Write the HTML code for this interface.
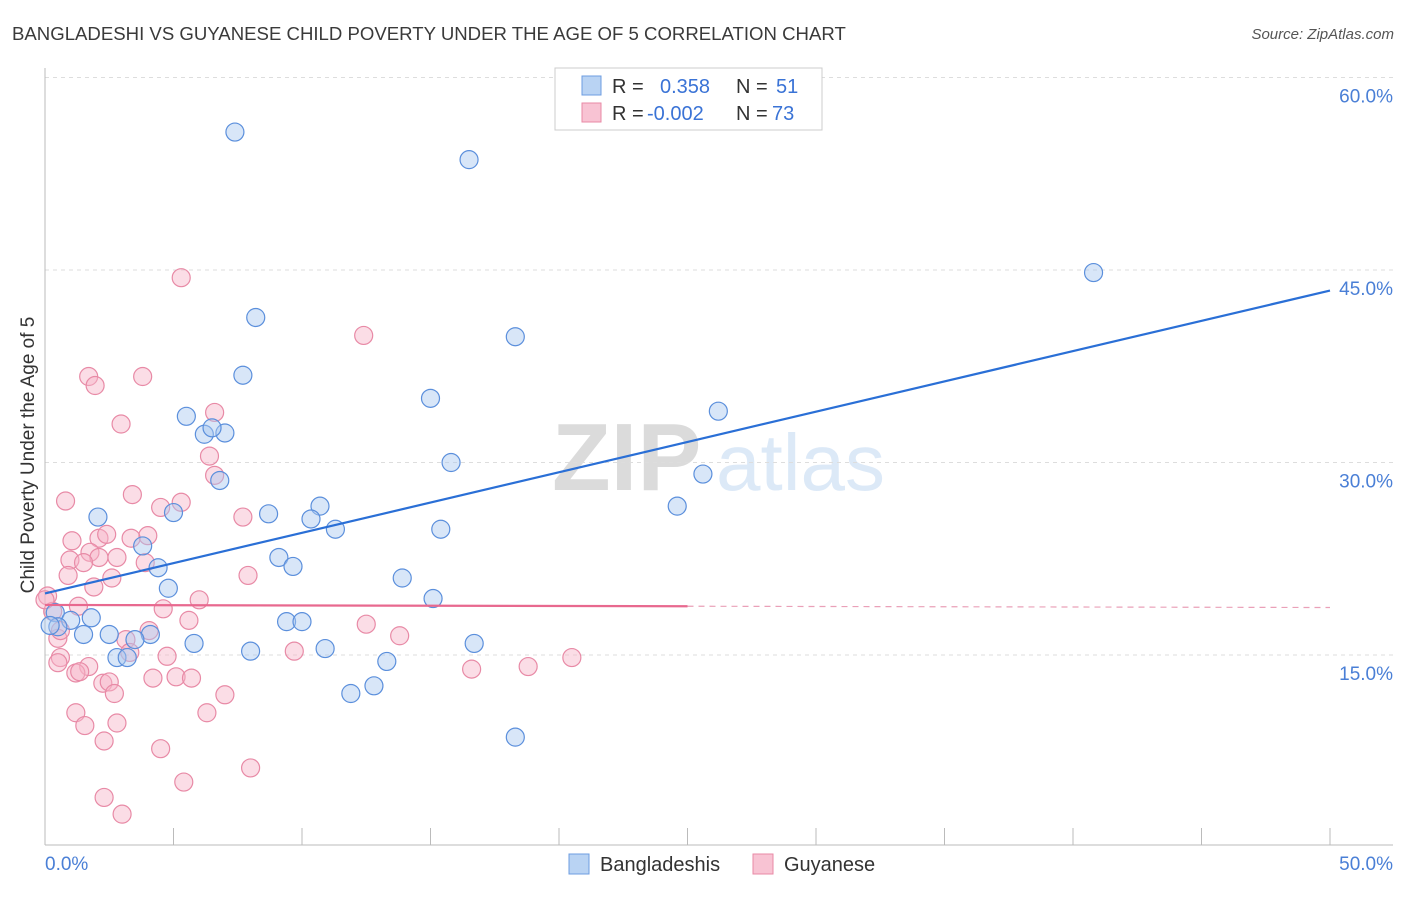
<!DOCTYPE html>
<html><head><meta charset="utf-8"><style>
body{margin:0;background:#fff;font-family:"Liberation Sans",sans-serif;}
svg text{font-family:"Liberation Sans",sans-serif;}
</style></head><body>
<svg id="chart" width="1406" height="892" xmlns="http://www.w3.org/2000/svg">
<text x="12" y="40" font-size="18.6" fill="#3a3a3a">BANGLADESHI VS GUYANESE CHILD POVERTY UNDER THE AGE OF 5 CORRELATION CHART</text>
<text x="1394" y="39" font-size="15" fill="#555" text-anchor="end" font-style="italic">Source: ZipAtlas.com</text>
<g opacity="0.35">
<text x="552" y="490" font-size="96" font-family="Liberation Serif" fill="#999" font-weight="bold">ZIP</text>
<text x="716" y="490" font-size="80" fill="#9ec1ea">atlas</text>
</g>
<g id="grid"></g>
<g id="axes"></g>
<g id="pts"></g>
<g id="trend"></g>
<text x="34" y="455" font-size="19" fill="#333" text-anchor="middle" transform="rotate(-90 34 455)">Child Poverty Under the Age of 5</text>
<g>
<rect x="555" y="68" width="267" height="62" fill="#fff" stroke="#ccc"/>
<rect x="582" y="76" width="19" height="19" fill="#b9d3f3" stroke="#6d9de0"/>
<rect x="582" y="103" width="19" height="19" fill="#f8c3d3" stroke="#e88aa6"/>
<text x="612" y="93" font-size="20" fill="#333">R =</text>
<text x="660" y="93" font-size="20" fill="#3a73d6">0.358</text>
<text x="736" y="93" font-size="20" fill="#333">N =</text>
<text x="776" y="93" font-size="20" fill="#3a73d6">51</text>
<text x="612" y="120" font-size="20" fill="#333">R =</text>
<text x="647" y="120" font-size="20" fill="#3a73d6">-0.002</text>
<text x="736" y="120" font-size="20" fill="#333">N =</text>
<text x="772" y="120" font-size="20" fill="#3a73d6">73</text>
</g>
<g>
<rect x="569" y="854" width="20" height="20" fill="#b9d3f3" stroke="#6d9de0"/>
<text x="600" y="871" font-size="20" fill="#333">Bangladeshis</text>
<rect x="753" y="854" width="20" height="20" fill="#f8c3d3" stroke="#e88aa6"/>
<text x="784" y="871" font-size="20" fill="#333">Guyanese</text>
</g>
</svg>
<script>
const yTicks=[15,30,45,60];
const yTickLabels=["15.0%","30.0%","45.0%","60.0%"];
const xEndLabels=["0.0%","50.0%"];
const blueX=[7.39,16.5,40.8,8.2,18.3,7.7,15.0,26.2,5.5,6.2,7.0,6.5,15.8,6.8,25.6,2.06,5.0,8.7,10.7,10.35,11.3,15.4,24.6,3.8,9.1,9.65,4.4,13.9,4.8,15.1,0.4,1.0,1.8,0.5,1.5,2.5,4.1,3.5,5.8,9.4,10.0,16.7,8.0,10.9,2.8,3.2,13.3,11.9,12.8,18.3,0.2];
const blueY=[55.75,53.6,44.8,41.3,39.8,36.8,35.0,34.0,33.6,32.2,32.3,32.7,30.0,28.6,29.1,25.75,26.1,26.0,26.6,25.6,24.8,24.8,26.6,23.5,22.6,21.9,21.8,21.0,20.2,19.4,18.3,17.7,17.9,17.2,16.6,16.6,16.6,16.2,15.9,17.6,17.6,15.9,15.3,15.5,14.8,14.8,14.5,12.0,12.6,8.6,17.3];
const pinkX=[5.3,12.4,1.7,3.8,1.95,6.6,2.96,6.4,6.6,0.8,3.4,5.3,4.5,7.7,1.05,2.1,2.4,4.0,3.35,1.75,2.1,2.8,0.97,1.5,3.9,0.9,2.6,7.9,1.9,6.0,0.1,1.3,4.6,0.3,5.6,12.5,13.8,0.5,4.05,3.15,0.6,3.3,4.75,9.7,0.6,0.5,1.7,1.2,1.35,4.2,5.1,5.7,16.6,18.8,20.5,2.25,2.5,2.7,7.0,1.2,6.3,1.55,2.8,2.3,4.5,8.0,5.4,2.3,3.0,0.0];
const pinkY=[44.4,39.9,36.7,36.7,36.0,33.9,33.0,30.5,29.0,27.0,27.5,26.9,26.5,25.75,23.9,24.1,24.4,24.3,24.1,23.0,22.6,22.6,22.4,22.2,22.2,21.2,21.0,21.2,20.3,19.3,19.6,18.8,18.6,18.4,17.7,17.4,16.5,16.3,16.9,16.2,16.9,15.2,14.9,15.3,14.8,14.4,14.1,13.6,13.7,13.2,13.3,13.2,13.9,14.1,14.8,12.8,12.9,12.0,11.9,10.5,10.5,9.5,9.7,8.3,7.7,6.2,5.1,3.9,2.6,19.3];
const blueTrend=[19.8,43.4];
const pinkTrend=[18.9,18.7];
const NS="http://www.w3.org/2000/svg";
const X=v=>45+v*25.7;
const Y=v=>655-(v-15)*12.833;
function mk(tag,attrs,parent){const e=document.createElementNS(NS,tag);for(const k in attrs)e.setAttribute(k,attrs[k]);document.getElementById(parent).appendChild(e);return e;}
yTicks.forEach((t,i)=>{
 const g=mk('line',{x1:45,x2:1393,y1:Y(t),y2:Y(t),stroke:'#ddd','stroke-dasharray':'4 4'},'grid');
 
 
 const l=mk('text',{x:1393,y:Y(t)+25,'font-size':19,fill:'#4a7fd6','text-anchor':'end'},'grid');
 l.textContent=yTickLabels[i];
 
 
});
let a=mk('line',{x1:45,x2:45,y1:68,y2:845,stroke:'#bbb'},'axes');


a=mk('line',{x1:45,x2:1393,y1:845,y2:845,stroke:'#bbb'},'axes');


for(let i=1;i<=10;i++){const t=mk('line',{x1:X(i*5),x2:X(i*5),y1:828,y2:845,stroke:'#bbb'},'axes');
 
 }
[[0,'start',45],[50,'end',1393]].forEach((d,i)=>{const t=mk('text',{x:d[2],y:870,'font-size':19,fill:'#4a7fd6','text-anchor':d[1]},'axes');t.textContent=xEndLabels[i];
 
 });
function pts(xs,ys,fill,stroke,name){xs.forEach((x,i)=>{const c=mk('circle',{cx:X(x),cy:Y(ys[i]),r:9,fill:fill,'fill-opacity':0.45,stroke:stroke,'stroke-width':1.2},'pts');
 
 });}
pts(pinkX,pinkY,'#f6b3c8','#e88aa6','guyanese-point');
pts(blueX,blueY,'#a9c8f0','#5b8fdc','bangladeshi-point');
let ln=mk('line',{x1:X(0),y1:Y(blueTrend[0]),x2:X(50),y2:Y(blueTrend[1]),stroke:'#2a6fd6','stroke-width':2.2},'trend');


const pm=pinkTrend[0]+(pinkTrend[1]-pinkTrend[0])*0.5;
ln=mk('line',{x1:X(0),y1:Y(pinkTrend[0]),x2:X(25),y2:Y(pm),stroke:'#e8698f','stroke-width':2.2},'trend');


ln=mk('line',{x1:X(25),y1:Y(pm),x2:X(50),y2:Y(pinkTrend[1]),stroke:'#eaa0b8','stroke-width':1.2,'stroke-dasharray':'6 5'},'trend');


</script>
</body></html>
